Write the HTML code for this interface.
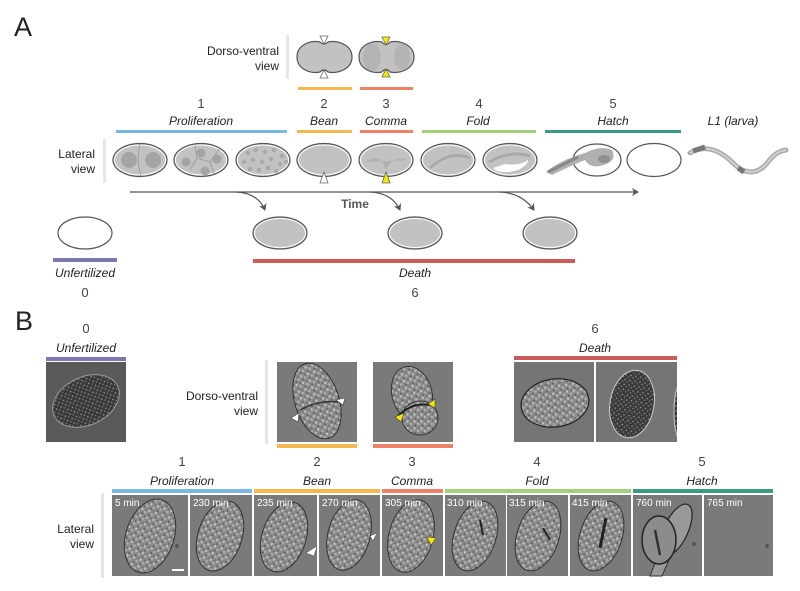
<!DOCTYPE html>
<html><head><meta charset="utf-8"><style>
html,body{margin:0;padding:0;background:#fff;}
svg{display:block;}
text{font-family:"Liberation Sans",sans-serif;}
</style></head><body>
<svg width="800" height="591" viewBox="0 0 800 591" xmlns="http://www.w3.org/2000/svg">
<defs>
<pattern id="tex" width="7" height="7" patternUnits="userSpaceOnUse">
<rect width="7" height="7" fill="#8a8a8a"/>
<circle cx="1.5" cy="1.5" r="1.2" fill="#c4c4c4"/>
<circle cx="5" cy="4" r="1.3" fill="#b0b0b0"/>
<circle cx="2.5" cy="5.5" r="0.9" fill="#555"/>
<circle cx="5.6" cy="1" r="0.7" fill="#5e5e5e"/>
</pattern>
<pattern id="tex2" width="5" height="5" patternUnits="userSpaceOnUse">
<rect width="5" height="5" fill="#3a3a3a"/>
<circle cx="1" cy="1" r="0.8" fill="#9a9a9a"/>
<circle cx="3.6" cy="3.2" r="0.7" fill="#888"/>
</pattern>
<clipPath id="cd2"><rect x="596" y="362" width="81" height="80"/></clipPath>
<marker id="ah" markerWidth="8" markerHeight="8" refX="6" refY="4" orient="auto" markerUnits="userSpaceOnUse">
<path d="M0,0 L7,4 L0,8 L2,4 Z" fill="#555"/>
</marker>
</defs>

<!-- Panel A -->
<text x="14" y="36" font-size="27" fill="#222">A</text>

<text x="279" y="55" font-size="12" fill="#222" text-anchor="end">Dorso-ventral</text>
<text x="279" y="70" font-size="12" fill="#222" text-anchor="end">view</text>
<rect x="286" y="35" width="3" height="44" fill="#e6e6e6"/>

<!-- DV cartoon 1 -->
<path d="M297,57 C297,45 310,40 320,42 Q324,46 328,42 C338,40 352,45 352,57 C352,69 338,74 328,72 Q324,68 320,72 C310,74 297,69 297,57 Z" fill="#c2c2c2" stroke="#555" stroke-width="1.2"/>
<path d="M320,36 L328,36 L324,44 Z" fill="#fff" stroke="#666" stroke-width="0.8"/>
<path d="M320,78 L328,78 L324,70 Z" fill="#fff" stroke="#666" stroke-width="0.8"/>
<!-- DV cartoon 2 -->
<path d="M359,57 C359,45 372,40 382,42 Q386,47 390,42 C400,40 414,45 414,57 C414,69 400,74 390,72 Q386,67 382,72 C372,74 359,69 359,57 Z" fill="#c2c2c2" stroke="#555" stroke-width="1.2"/>
<ellipse cx="372" cy="57" rx="9" ry="14" fill="#b4b4b4"/>
<ellipse cx="402" cy="57" rx="8" ry="13" fill="#b4b4b4"/>
<path d="M382,37 L390,37 L386,45 Z" fill="#f5e800" stroke="#666" stroke-width="0.8"/>
<path d="M382,77 L390,77 L386,69 Z" fill="#f5e800" stroke="#666" stroke-width="0.8"/>
<rect x="298" y="87" width="54" height="3" fill="#f4b84e"/>
<rect x="360" y="87" width="53" height="3" fill="#ef8266"/>

<!-- numbers -->
<g font-size="13" fill="#444" text-anchor="middle">
<text x="201" y="108">1</text><text x="324" y="108">2</text><text x="386" y="108">3</text><text x="479" y="108">4</text><text x="613" y="108">5</text>
</g>
<g font-size="12" fill="#222" text-anchor="middle" font-style="italic">
<text x="201" y="125">Proliferation</text><text x="324" y="125">Bean</text><text x="386" y="125">Comma</text><text x="478" y="125">Fold</text><text x="613" y="125">Hatch</text><text x="733" y="125">L1 (larva)</text>
</g>
<rect x="116" y="130" width="171" height="3" fill="#79b8e3"/>
<rect x="297" y="130" width="55" height="3" fill="#f4b84e"/>
<rect x="360" y="130" width="53" height="3" fill="#ef8266"/>
<rect x="422" y="130" width="114" height="3" fill="#a3d07a"/>
<rect x="545" y="130" width="136" height="3" fill="#3a9a84"/>

<text x="95" y="158" font-size="12" fill="#222" text-anchor="end">Lateral</text>
<text x="95" y="173" font-size="12" fill="#222" text-anchor="end">view</text>
<rect x="103" y="139" width="3" height="44" fill="#e6e6e6"/>

<!-- lateral cartoons -->
<g stroke="#555" stroke-width="1.2" fill="#c2c2c2">
<ellipse cx="140" cy="160" rx="27" ry="16.5"/>
<ellipse cx="201" cy="160" rx="27" ry="16.5"/>
<ellipse cx="263" cy="160" rx="27" ry="16.5"/>
<ellipse cx="324" cy="160" rx="27" ry="16.5"/>
<ellipse cx="386" cy="160" rx="27" ry="16.5"/>
<ellipse cx="448" cy="160" rx="27" ry="16.5"/>
<ellipse cx="510" cy="160" rx="27" ry="16.5"/>
</g>
<g stroke="#fff" stroke-width="1" fill="none">
<ellipse cx="140" cy="160" rx="25.5" ry="15"/>
<ellipse cx="201" cy="160" rx="25.5" ry="15"/>
<ellipse cx="263" cy="160" rx="25.5" ry="15"/>
<ellipse cx="324" cy="160" rx="25.5" ry="15"/>
<ellipse cx="386" cy="160" rx="25.5" ry="15"/>
<ellipse cx="448" cy="160" rx="25.5" ry="15"/>
<ellipse cx="510" cy="160" rx="25.5" ry="15"/>
</g>
<g fill="#a4a4a4">
<circle cx="129" cy="160" r="8"/><circle cx="153" cy="160" r="8"/>
<circle cx="201" cy="153" r="4.5"/><circle cx="186" cy="162" r="4.5"/><circle cx="217" cy="159" r="4.5"/><circle cx="205" cy="171" r="4.5"/>
</g>
<path d="M140,144 Q136,160 141,176" stroke="#999" fill="none" stroke-width="0.8"/>
<path d="M195,145 L197,158 L190,170 M197,158 L210,162 L214,174 M210,162 L220,148" stroke="#999" fill="none" stroke-width="0.8"/>
<g fill="#a8a8a8">
<circle cx="248" cy="153" r="2.2"/><circle cx="256" cy="150" r="2.2"/><circle cx="265" cy="152" r="2.2"/><circle cx="274" cy="150" r="2.2"/><circle cx="282" cy="156" r="2.2"/>
<circle cx="244" cy="162" r="2.2"/><circle cx="253" cy="160" r="2.2"/><circle cx="262" cy="162" r="2.2"/><circle cx="271" cy="159" r="2.2"/><circle cx="280" cy="164" r="2.2"/>
<circle cx="250" cy="169" r="2.2"/><circle cx="259" cy="170" r="2.2"/><circle cx="268" cy="168" r="2.2"/><circle cx="276" cy="171" r="2.2"/><circle cx="286" cy="162" r="2"/>
</g>
<path d="M366,162 Q380,152 386,170 Q392,155 408,160" fill="#b0b0b0" stroke="none"/>
<path d="M430,168 Q450,150 470,158" stroke="#aaa" fill="none" stroke-width="3"/>
<path d="M493,168 Q500,175 518,170 Q528,165 528,160 Q520,166 505,164 Z" fill="#fff"/>
<path d="M489,162 Q510,150 530,156" stroke="#aaa" fill="none" stroke-width="3"/>
<path d="M320,183 L328,183 L324,172 Z" fill="#fff" stroke="#666" stroke-width="0.8"/>
<path d="M382,183 L390,183 L386,172 Z" fill="#f5e800" stroke="#666" stroke-width="0.8"/>

<!-- hatch -->
<ellipse cx="597" cy="160" rx="24" ry="16" fill="#fff" stroke="#555" stroke-width="1.2"/>
<path d="M546,172 Q560,160 585,153 Q600,145 612,150 Q618,162 600,166 Q590,168 585,160 Q570,166 552,175 Z" fill="#b0b0b0"/>
<path d="M548,172 L578,157" stroke="#888" stroke-width="3"/>
<ellipse cx="604" cy="159" rx="6" ry="4" fill="#909090"/>
<ellipse cx="654" cy="160" rx="27" ry="16.5" fill="#fff" stroke="#555" stroke-width="1.2"/>
<!-- larva -->
<path d="M690,153 C705,144 720,150 733,163 C745,175 758,175 768,162 C775,153 780,151 786,150" stroke="#aaa" stroke-width="5" fill="none" stroke-linecap="round"/>
<path d="M690,153 C705,144 720,150 733,163 C745,175 758,175 768,162 C775,153 780,151 786,150" stroke="#d0d0d0" stroke-width="2" fill="none"/>
<path d="M693,151 L705,147" stroke="#777" stroke-width="5"/>
<path d="M738,168 L744,172" stroke="#777" stroke-width="5"/>

<!-- time arrows -->
<line x1="130" y1="192" x2="638" y2="192" stroke="#555" stroke-width="1.2" marker-end="url(#ah)"/>
<path d="M236,192 Q258,193 265,210" stroke="#555" stroke-width="1.2" fill="none" marker-end="url(#ah)"/>
<path d="M370,192 Q392,193 400,210" stroke="#555" stroke-width="1.2" fill="none" marker-end="url(#ah)"/>
<path d="M500,192 Q522,193 534,210" stroke="#555" stroke-width="1.2" fill="none" marker-end="url(#ah)"/>
<text x="355" y="208" font-size="12" font-weight="bold" fill="#555" text-anchor="middle">Time</text>

<ellipse cx="85" cy="233" rx="27" ry="16" fill="#fff" stroke="#555" stroke-width="1.2"/>
<g stroke="#555" stroke-width="1.2" fill="#c2c2c2">
<ellipse cx="280" cy="233" rx="27" ry="16"/>
<ellipse cx="415" cy="233" rx="27" ry="16"/>
<ellipse cx="550" cy="233" rx="27" ry="16"/>
</g>
<g stroke="#fff" stroke-width="1" fill="none">
<ellipse cx="280" cy="233" rx="25.5" ry="14.5"/>
<ellipse cx="415" cy="233" rx="25.5" ry="14.5"/>
<ellipse cx="550" cy="233" rx="25.5" ry="14.5"/>
</g>
<rect x="53" y="258" width="64" height="4" fill="#7b78b0"/>
<rect x="253" y="259" width="322" height="4" fill="#cf5a5a"/>
<text x="85" y="277" font-size="12" fill="#222" text-anchor="middle" font-style="italic">Unfertilized</text>
<text x="415" y="277" font-size="12" fill="#222" text-anchor="middle" font-style="italic">Death</text>
<text x="85" y="297" font-size="13" fill="#444" text-anchor="middle">0</text>
<text x="415" y="297" font-size="13" fill="#444" text-anchor="middle">6</text>

<!-- Panel B -->
<text x="15" y="330" font-size="27" fill="#222">B</text>
<text x="86" y="333" font-size="13" fill="#444" text-anchor="middle">0</text>
<text x="86" y="352" font-size="12" fill="#222" text-anchor="middle" font-style="italic">Unfertilized</text>
<rect x="46" y="357" width="80" height="4" fill="#7b78b0"/>
<rect x="46" y="362" width="80" height="80" fill="#5a5a5a"/>
<ellipse cx="86" cy="401" rx="35" ry="24" transform="rotate(-25 86 401)" fill="url(#tex2)" stroke="#999" stroke-width="1"/>

<text x="258" y="400" font-size="12" fill="#222" text-anchor="end">Dorso-ventral</text>
<text x="258" y="415" font-size="12" fill="#222" text-anchor="end">view</text>
<rect x="265" y="360" width="3" height="84" fill="#e6e6e6"/>

<rect x="277" y="362" width="80" height="80" fill="#7a7a7a"/>
<ellipse cx="317" cy="401" rx="22" ry="39" transform="rotate(-18 317 401)" fill="url(#tex)" stroke="#333" stroke-width="1"/>
<path d="M300,410 Q318,400 338,402" stroke="#333" stroke-width="1.5" fill="none"/>
<path d="M291,418 L299,413 L298,422 Z" fill="#fff" stroke="#444" stroke-width="0.6"/>
<path d="M343,405 L336,400 L345,398 Z" fill="#fff" stroke="#444" stroke-width="0.6"/>
<rect x="277" y="444" width="80" height="4" fill="#f4b84e"/>

<rect x="373" y="362" width="80" height="80" fill="#7a7a7a"/>
<ellipse cx="412" cy="394" rx="20" ry="28" transform="rotate(-15 412 394)" fill="url(#tex)" stroke="#333" stroke-width="1"/>
<ellipse cx="420" cy="418" rx="18" ry="17" fill="url(#tex)" stroke="#333" stroke-width="1"/>
<path d="M398,416 Q412,402 430,405" stroke="#222" stroke-width="2" fill="none"/>
<path d="M395,417 L404,413 L401,422 Z" fill="#f5e800" stroke="#444" stroke-width="0.6"/>
<path d="M435,408 L428,404 L435,399 Z" fill="#f5e800" stroke="#444" stroke-width="0.6"/>
<rect x="373" y="444" width="80" height="4" fill="#ef8266"/>

<text x="595" y="333" font-size="13" fill="#444" text-anchor="middle">6</text>
<text x="595" y="352" font-size="12" fill="#222" text-anchor="middle" font-style="italic">Death</text>
<rect x="514" y="356" width="163" height="4" fill="#cf5a5a"/>
<rect x="514" y="362" width="80" height="80" fill="#757575"/>
<rect x="596" y="362" width="81" height="80" fill="#757575"/>
<ellipse cx="555" cy="403" rx="34" ry="24" transform="rotate(-8 555 403)" fill="url(#tex)" stroke="#222" stroke-width="1.2"/>
<ellipse cx="632" cy="404" rx="22" ry="34" transform="rotate(10 632 404)" fill="url(#tex2)" stroke="#ccc" stroke-width="1"/>
<g clip-path="url(#cd2)">
<ellipse cx="682" cy="412" rx="8" ry="30" fill="url(#tex2)" stroke="#ccc" stroke-width="1"/>
</g>

<!-- lateral row -->
<g font-size="13" fill="#444" text-anchor="middle">
<text x="182" y="466">1</text><text x="317" y="466">2</text><text x="412" y="466">3</text><text x="537" y="466">4</text><text x="702" y="466">5</text>
</g>
<g font-size="12" fill="#222" text-anchor="middle" font-style="italic">
<text x="182" y="485">Proliferation</text><text x="317" y="485">Bean</text><text x="412" y="485">Comma</text><text x="537" y="485">Fold</text><text x="702" y="485">Hatch</text>
</g>
<rect x="112" y="489" width="140" height="4" fill="#79b8e3"/>
<rect x="254" y="489" width="126" height="4" fill="#f4b84e"/>
<rect x="382" y="489" width="61" height="4" fill="#ef8266"/>
<rect x="445" y="489" width="186" height="4" fill="#a3d07a"/>
<rect x="633" y="489" width="140" height="4" fill="#3a9a84"/>

<text x="94" y="533" font-size="12" fill="#222" text-anchor="end">Lateral</text>
<text x="94" y="548" font-size="12" fill="#222" text-anchor="end">view</text>
<rect x="101" y="493" width="3" height="85" fill="#e6e6e6"/>

<g fill="#7a7a7a">
<rect x="112" y="495" width="76" height="81"/>
<rect x="190" y="495" width="62" height="81"/>
<rect x="254" y="495" width="63" height="81"/>
<rect x="319" y="495" width="61" height="81"/>
<rect x="382" y="495" width="61" height="81"/>
<rect x="445" y="495" width="61" height="81"/>
<rect x="507" y="495" width="61" height="81"/>
<rect x="570" y="495" width="61" height="81"/>
<rect x="633" y="495" width="69" height="81"/>
<rect x="704" y="495" width="69" height="81"/>
</g>
<g fill="url(#tex)" stroke="#333" stroke-width="1">
<ellipse cx="150" cy="536" rx="24" ry="38" transform="rotate(18 150 536)"/>
<ellipse cx="220" cy="536" rx="22" ry="36" transform="rotate(18 220 536)"/>
<ellipse cx="284" cy="537" rx="22" ry="36" transform="rotate(18 284 537)"/>
<ellipse cx="349" cy="535" rx="21" ry="36" transform="rotate(15 349 535)"/>
<ellipse cx="411" cy="536" rx="22" ry="37" transform="rotate(15 411 536)"/>
<ellipse cx="475" cy="536" rx="21" ry="36" transform="rotate(18 475 536)"/>
<ellipse cx="538" cy="536" rx="21" ry="36" transform="rotate(18 538 536)"/>
<ellipse cx="601" cy="536" rx="21" ry="36" transform="rotate(18 601 536)"/>
</g>
<path d="M480,520 L483,535" stroke="#222" stroke-width="2"/>
<path d="M543,528 L550,540" stroke="#222" stroke-width="2"/>
<path d="M606,518 L600,548" stroke="#222" stroke-width="3"/>
<!-- hatch image -->
<path d="M650,576 L672,520 L684,525 L662,576 Z" fill="#9a9a9a" stroke="#333" stroke-width="1"/>
<ellipse cx="676" cy="530" rx="12" ry="28" transform="rotate(25 676 530)" fill="#999" stroke="#222" stroke-width="1.2"/>
<ellipse cx="659" cy="540" rx="17" ry="24" fill="#8c8c8c" stroke="#222" stroke-width="1.5"/>
<path d="M655,530 L660,555" stroke="#333" stroke-width="2.5"/>
<circle cx="694" cy="544" r="2" fill="#555"/>
<circle cx="767" cy="546" r="2" fill="#555"/>
<circle cx="177" cy="546" r="2" fill="#555"/>
<rect x="172" y="569" width="12" height="2" fill="#fff"/>
<path d="M306,553 L317,546 L314,556 Z" fill="#fff" stroke="#444" stroke-width="0.5"/>
<path d="M370,536 L377,533 L373,541 Z" fill="#fff" stroke="#444" stroke-width="0.5"/>
<path d="M427,537 L436,538 L431,545 Z" fill="#f5e800" stroke="#444" stroke-width="0.5"/>

<g font-size="10" fill="#fff">
<text x="115" y="506">5 min</text>
<text x="193" y="506">230 min</text>
<text x="257" y="506">235 min</text>
<text x="322" y="506">270 min</text>
<text x="385" y="506">305 min</text>
<text x="447" y="506">310 min</text>
<text x="509" y="506">315 min</text>
<text x="572" y="506">415 min</text>
<text x="636" y="506">760 min</text>
<text x="707" y="506">765 min</text>
</g>
</svg>
</body></html>
